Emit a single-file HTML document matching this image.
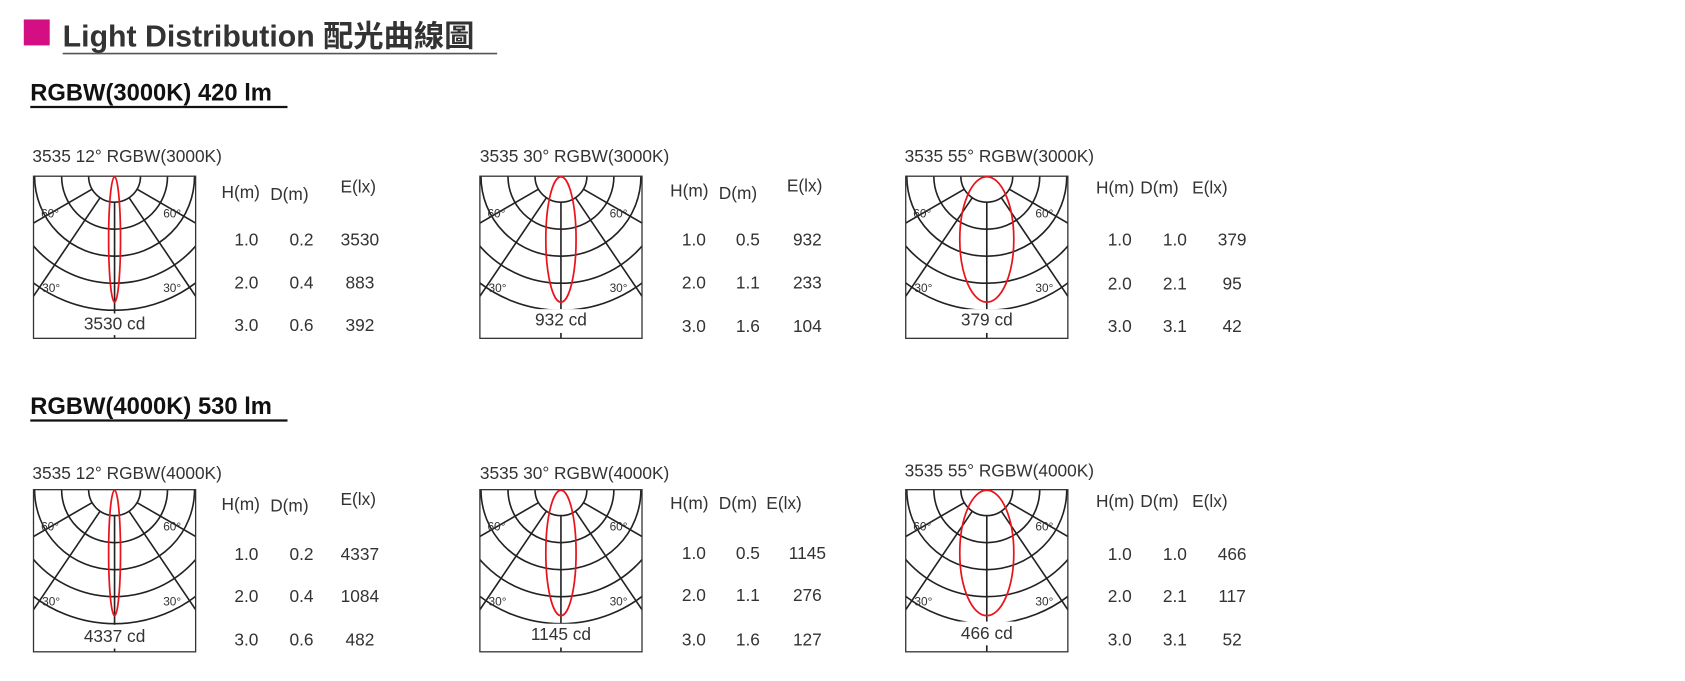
<!DOCTYPE html>
<html><head><meta charset="utf-8"><style>
html,body{margin:0;padding:0;background:#fff;}
svg{display:block;}
text{font-family:"Liberation Sans","Noto Sans CJK TC",sans-serif;fill:#333;}
</style></head><body>
<svg width="1685" height="681" viewBox="0 0 1559 630" preserveAspectRatio="none" xmlns="http://www.w3.org/2000/svg">
<defs>
<clipPath id="bc"><rect x="0" y="0" width="150" height="150"/></clipPath>
<g id="grid">
 <g clip-path="url(#bc)" fill="none" stroke="#222" stroke-width="1.5">
  <circle cx="75" cy="0" r="24"/><circle cx="75" cy="0" r="49"/><circle cx="75" cy="0" r="74"/><circle cx="75" cy="0" r="99"/><circle cx="75" cy="0" r="124"/>
  <line x1="75" y1="24" x2="75" y2="150"/>
  <line x1="88.4" y1="19.9" x2="175" y2="148"/><line x1="61.6" y1="19.9" x2="-25" y2="148"/>
  <line x1="95.8" y1="12" x2="248" y2="100"/><line x1="54.2" y1="12" x2="-98" y2="100"/>
 </g>
 <rect x="0" y="0" width="150" height="150" fill="none" stroke="#333" stroke-width="1.2"/>
 <text x="7" y="38" font-size="11">60°</text><text x="120" y="38" font-size="11">60°</text>
 <text x="8" y="107" font-size="11">30°</text><text x="120" y="107" font-size="11">30°</text>
</g>
</defs>

<rect x="22" y="18" width="24" height="24" fill="#d30f83"/>
<text x="58" y="43" font-size="28" font-weight="bold" style="fill:#333">Light Distribution 配光曲線圖</text>
<line x1="58" y1="49.5" x2="460" y2="49.5" stroke="#555" stroke-width="1.5"/>

<text x="28" y="93" font-size="22" font-weight="bold" style="fill:#111">RGBW(3000K) 420 lm</text>
<line x1="28" y1="99" x2="266" y2="99" stroke="#111" stroke-width="2"/>
<text x="28" y="383" font-size="22" font-weight="bold" style="fill:#111">RGBW(4000K) 530 lm</text>
<line x1="28" y1="389" x2="266" y2="389" stroke="#111" stroke-width="2"/>

<!-- Row 1 -->
<g transform="translate(31,163)">
 <text x="-1" y="-13" font-size="16">3535 12° RGBW(3000K)</text>
 <use href="#grid"/>
 <ellipse cx="75" cy="58.5" rx="5.5" ry="58" fill="none" stroke="#e8141b" stroke-width="1.6"/>
 <rect x="40" y="127" width="70" height="20" fill="#fff"/>
 <text x="75" y="142" font-size="16" text-anchor="middle">3530 cd</text>
 <text x="174" y="20" font-size="16">H(m)</text><text x="219" y="22" font-size="16">D(m)</text><text x="284" y="15" font-size="16">E(lx)</text>
 <g font-size="16" text-anchor="middle">
  <text x="197" y="64">1.0</text><text x="248" y="64">0.2</text><text x="302" y="64">3530</text>
  <text x="197" y="104">2.0</text><text x="248" y="104">0.4</text><text x="302" y="104">883</text>
  <text x="197" y="143">3.0</text><text x="248" y="143">0.6</text><text x="302" y="143">392</text>
 </g>
</g>
<g transform="translate(444,163)">
 <text x="0" y="-13" font-size="16">3535 30° RGBW(3000K)</text>
 <use href="#grid"/>
 <ellipse cx="75" cy="58.5" rx="14" ry="58" fill="none" stroke="#e8141b" stroke-width="1.6"/>
 <rect x="44" y="123" width="62" height="22" fill="#fff"/>
 <text x="75" y="138" font-size="16" text-anchor="middle">932 cd</text>
 <text x="176" y="19" font-size="16">H(m)</text><text x="221" y="21" font-size="16">D(m)</text><text x="284" y="14" font-size="16">E(lx)</text>
 <g font-size="16" text-anchor="middle">
  <text x="198" y="64">1.0</text><text x="248" y="64">0.5</text><text x="303" y="64">932</text>
  <text x="198" y="104">2.0</text><text x="248" y="104">1.1</text><text x="303" y="104">233</text>
  <text x="198" y="144">3.0</text><text x="248" y="144">1.6</text><text x="303" y="144">104</text>
 </g>
</g>
<g transform="translate(838,163)">
 <text x="-1" y="-13" font-size="16">3535 55° RGBW(3000K)</text>
 <use href="#grid"/>
 <ellipse cx="75" cy="58.5" rx="25" ry="58" fill="none" stroke="#e8141b" stroke-width="1.6"/>
 <rect x="44" y="123" width="62" height="22" fill="#fff"/>
 <text x="75" y="138" font-size="16" text-anchor="middle">379 cd</text>
 <text x="176" y="16" font-size="16">H(m)</text><text x="217" y="16" font-size="16">D(m)</text><text x="265" y="16" font-size="16">E(lx)</text>
 <g font-size="16" text-anchor="middle">
  <text x="198" y="64">1.0</text><text x="249" y="64">1.0</text><text x="302" y="64">379</text>
  <text x="198" y="105">2.0</text><text x="249" y="105">2.1</text><text x="302" y="105">95</text>
  <text x="198" y="144">3.0</text><text x="249" y="144">3.1</text><text x="302" y="144">42</text>
 </g>
</g>

<!-- Row 2 -->
<g transform="translate(31,453)">
 <text x="-1" y="-10" font-size="16">3535 12° RGBW(4000K)</text>
 <use href="#grid"/>
 <ellipse cx="75" cy="58.5" rx="5.5" ry="58" fill="none" stroke="#e8141b" stroke-width="1.6"/>
 <rect x="40" y="125" width="70" height="22" fill="#fff"/>
 <text x="75" y="141" font-size="16" text-anchor="middle">4337 cd</text>
 <text x="174" y="19" font-size="16">H(m)</text><text x="219" y="20" font-size="16">D(m)</text><text x="284" y="14" font-size="16">E(lx)</text>
 <g font-size="16" text-anchor="middle">
  <text x="197" y="65">1.0</text><text x="248" y="65">0.2</text><text x="302" y="65">4337</text>
  <text x="197" y="104">2.0</text><text x="248" y="104">0.4</text><text x="302" y="104">1084</text>
  <text x="197" y="144">3.0</text><text x="248" y="144">0.6</text><text x="302" y="144">482</text>
 </g>
</g>
<g transform="translate(444,453)">
 <text x="0" y="-10" font-size="16">3535 30° RGBW(4000K)</text>
 <use href="#grid"/>
 <ellipse cx="75" cy="58.5" rx="14" ry="58" fill="none" stroke="#e8141b" stroke-width="1.6"/>
 <rect x="40" y="124" width="70" height="22" fill="#fff"/>
 <text x="75" y="139" font-size="16" text-anchor="middle">1145 cd</text>
 <text x="176" y="18" font-size="16">H(m)</text><text x="221" y="18" font-size="16">D(m)</text><text x="265" y="18" font-size="16">E(lx)</text>
 <g font-size="16" text-anchor="middle">
  <text x="198" y="64">1.0</text><text x="248" y="64">0.5</text><text x="303" y="64">1145</text>
  <text x="198" y="103">2.0</text><text x="248" y="103">1.1</text><text x="303" y="103">276</text>
  <text x="198" y="144">3.0</text><text x="248" y="144">1.6</text><text x="303" y="144">127</text>
 </g>
</g>
<g transform="translate(838,453)">
 <text x="-1" y="-12" font-size="16">3535 55° RGBW(4000K)</text>
 <use href="#grid"/>
 <ellipse cx="75" cy="58.5" rx="25" ry="58" fill="none" stroke="#e8141b" stroke-width="1.6"/>
 <rect x="44" y="122" width="62" height="22" fill="#fff"/>
 <text x="75" y="138" font-size="16" text-anchor="middle">466 cd</text>
 <text x="176" y="16" font-size="16">H(m)</text><text x="217" y="16" font-size="16">D(m)</text><text x="265" y="16" font-size="16">E(lx)</text>
 <g font-size="16" text-anchor="middle">
  <text x="198" y="65">1.0</text><text x="249" y="65">1.0</text><text x="302" y="65">466</text>
  <text x="198" y="104">2.0</text><text x="249" y="104">2.1</text><text x="302" y="104">117</text>
  <text x="198" y="144">3.0</text><text x="249" y="144">3.1</text><text x="302" y="144">52</text>
 </g>
</g>
</svg>
</body></html>
